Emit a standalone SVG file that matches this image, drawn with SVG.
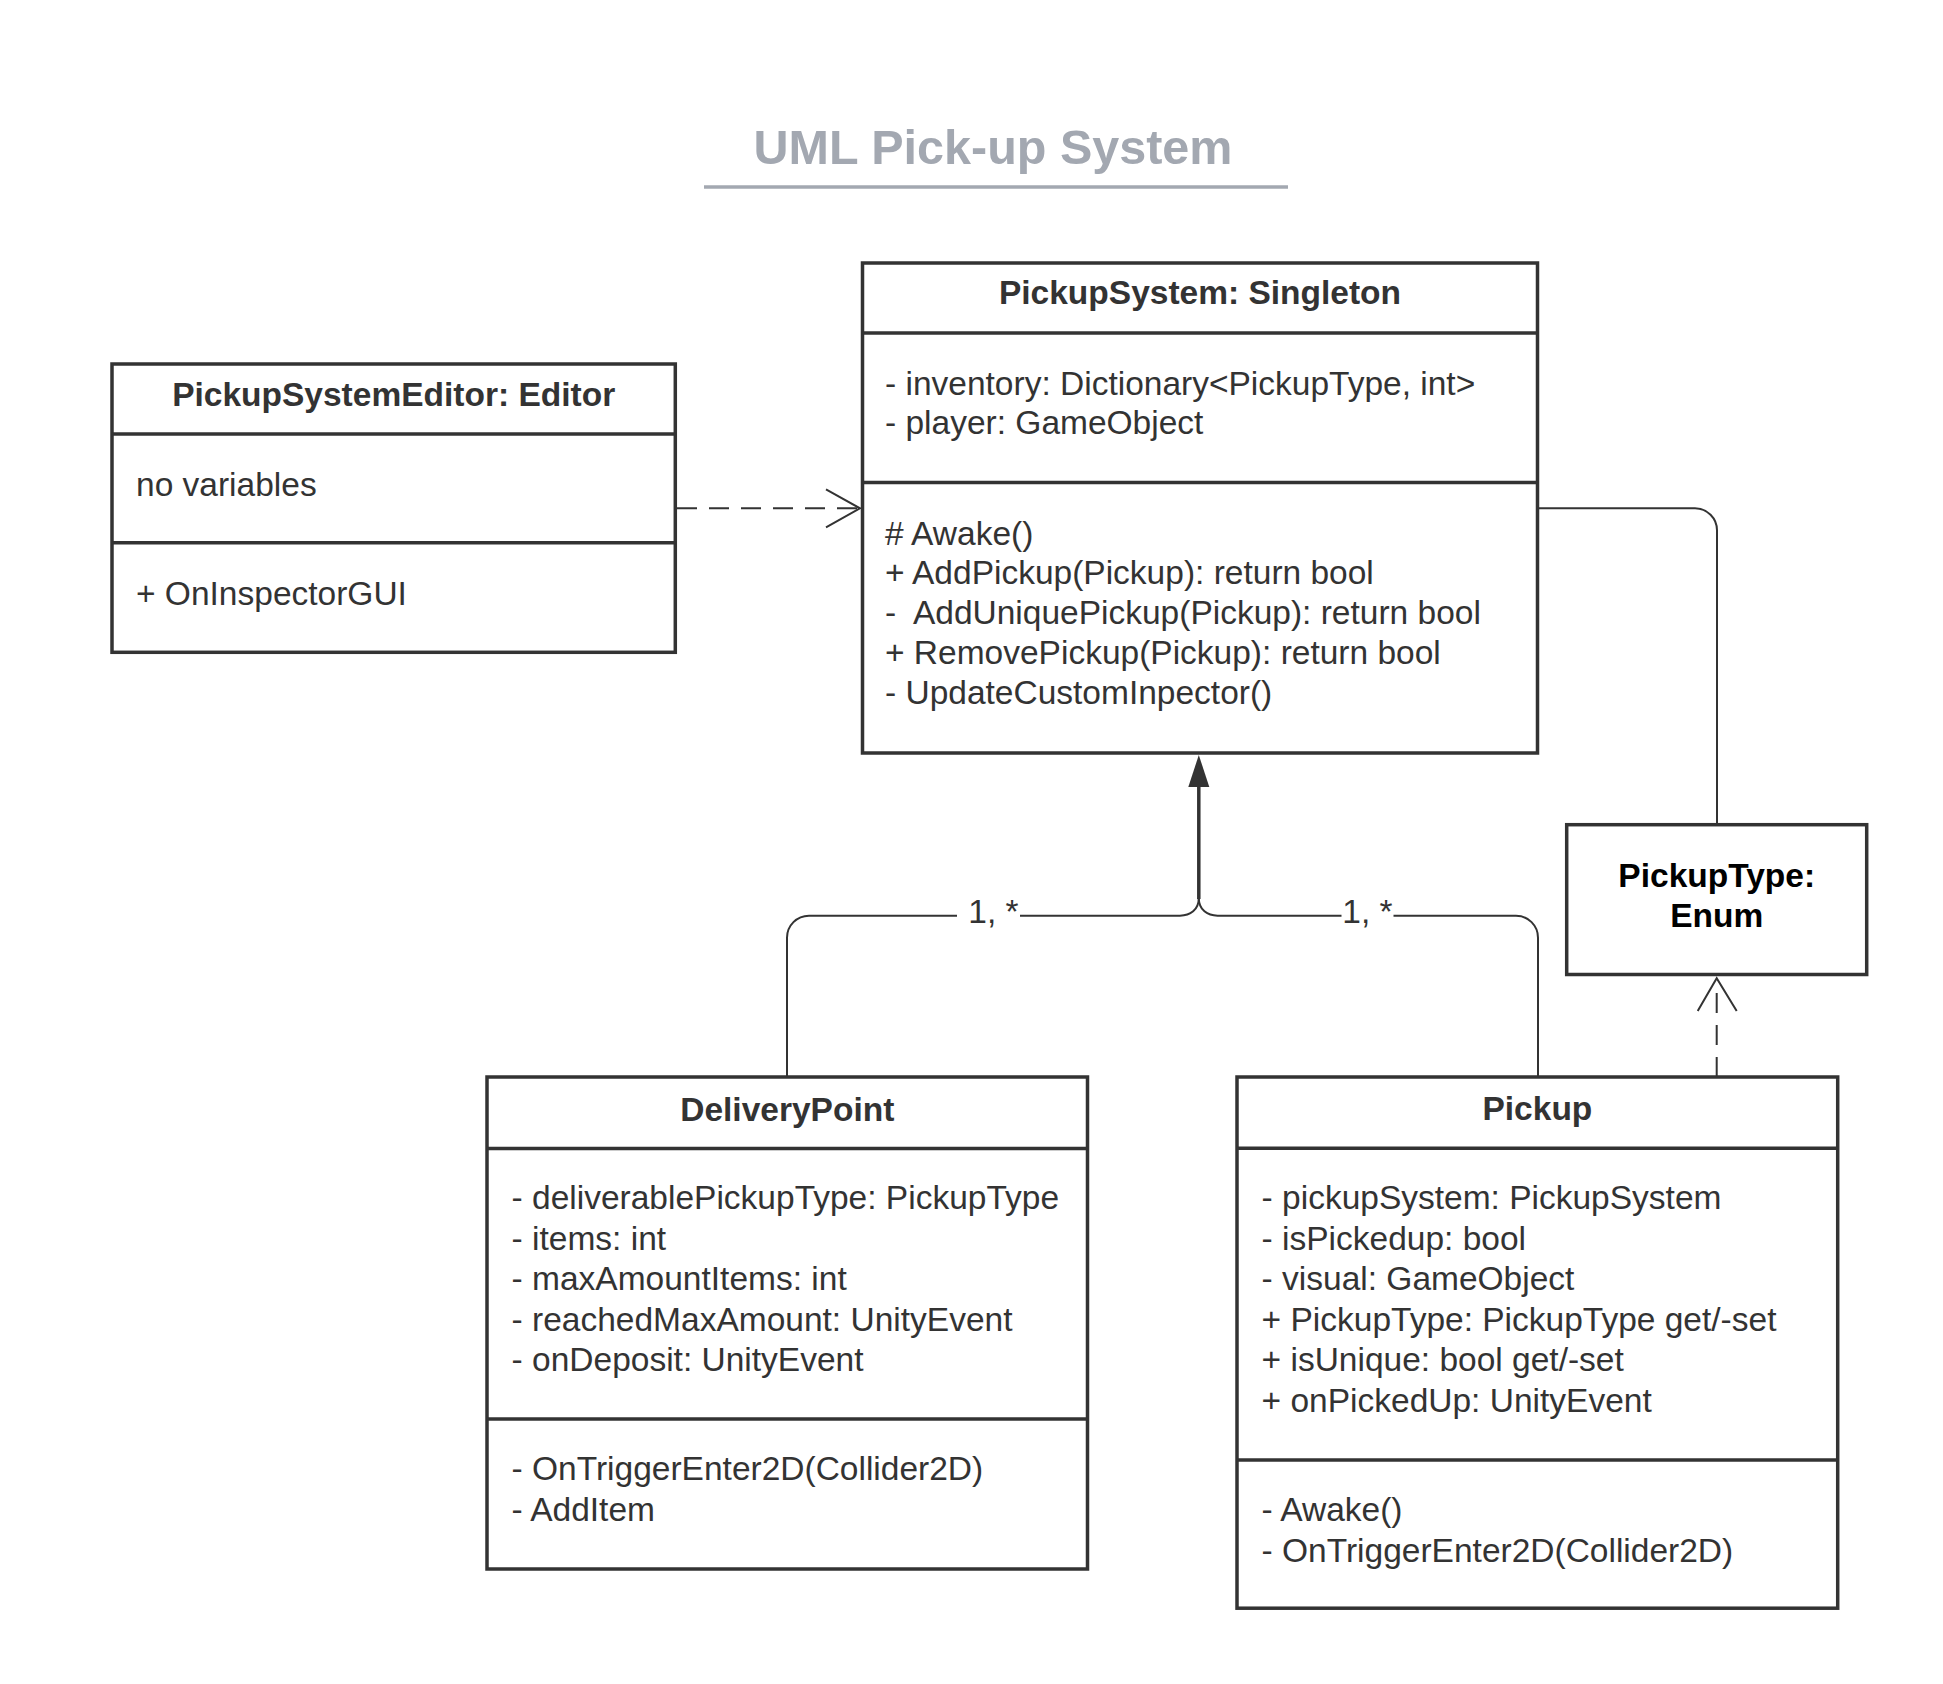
<svg xmlns="http://www.w3.org/2000/svg" width="1943" height="1684" viewBox="0 0 1943 1684">
<style>
.box{fill:#fff;stroke:#333;stroke-width:3.5}
.div{stroke:#333;stroke-width:3.5}
.t{font-family:"Liberation Sans",Arial,sans-serif;font-size:33.5px;fill:#333}
.h{font-family:"Liberation Sans",Arial,sans-serif;font-size:33.5px;font-weight:bold;fill:#333;text-anchor:middle}
.c{fill:none;stroke:#333;stroke-width:2}
.d{fill:none;stroke:#333;stroke-width:2;stroke-dasharray:20 12}
</style>
<rect width="1943" height="1684" fill="#fff"/>
<g id="title">
<text x="993" y="164" font-family="Liberation Sans,Arial,sans-serif" font-size="48.5" font-weight="bold" fill="#a3a8b1" text-anchor="middle">UML Pick-up System</text>
<line x1="704" y1="187" x2="1288" y2="187" stroke="#a3a8b1" stroke-width="3.5"/>
</g>
<g id="connectors">
<line class="d" x1="677" y1="508.3" x2="858" y2="508.3"/>
<polyline class="c" points="826,489.3 860,508.3 826,527.3"/>
<path class="c" d="M1539,508.3 H1695 A22,22 0 0 1 1717,530.3 V824"/>
<line class="d" x1="1716.7" y1="1077" x2="1716.7" y2="981"/>
<polyline class="c" points="1697.7,1011 1716.7,978.3 1736.7,1011"/>
<line x1="1198.8" y1="785" x2="1198.8" y2="899" stroke="#333" stroke-width="3.5"/>
<polygon points="1198.8,755 1188.3,787 1209.3,787" fill="#333"/>
<path class="c" stroke-width="2.4" d="M1198.8,898 C1198.8,910 1190,915.7 1180,915.7 H809 A22,22 0 0 0 787,937.7 V1077"/>
<path class="c" stroke-width="2.4" d="M1198.8,898 C1198.8,910 1207.6,915.7 1217.6,915.7 H1516 A22,22 0 0 1 1538,937.7 V1077"/>
<rect x="957" y="900" width="63" height="30" fill="#fff"/>
<rect x="1341.5" y="900" width="52" height="30" fill="#fff"/>
<text class="t" x="993.5" y="922.7" text-anchor="middle">1, *</text>
<text class="t" x="1367.5" y="922.7" text-anchor="middle">1, *</text>
</g>
<g id="PickupSystem">
<rect class="box" x="862.5" y="263" width="675" height="490"/>
<line class="div" x1="862.5" y1="333" x2="1537.5" y2="333"/>
<line class="div" x1="862.5" y1="482.5" x2="1537.5" y2="482.5"/>
<text class="h" x="1200" y="304">PickupSystem: Singleton</text>
<text class="t" x="885" y="395">- inventory: Dictionary&lt;PickupType, int&gt;</text>
<text class="t" x="885" y="434">- player: GameObject</text>
<text class="t" x="885" y="544.5"># Awake()</text>
<text class="t" x="885" y="584">+ AddPickup(Pickup): return bool</text>
<text class="t" x="885" y="624" xml:space="preserve">-  AddUniquePickup(Pickup): return bool</text>
<text class="t" x="885" y="664">+ RemovePickup(Pickup): return bool</text>
<text class="t" x="885" y="704">- UpdateCustomInpector()</text>
</g>
<g id="PickupSystemEditor">
<rect class="box" x="112" y="364" width="563.3" height="288.3"/>
<line class="div" x1="112" y1="434" x2="675.3" y2="434"/>
<line class="div" x1="112" y1="542.7" x2="675.3" y2="542.7"/>
<text class="h" x="393.7" y="406">PickupSystemEditor: Editor</text>
<text class="t" x="136" y="495.7">no variables</text>
<text class="t" x="136" y="605">+ OnInspectorGUI</text>
</g>
<g id="PickupType">
<rect class="box" x="1566.7" y="824.7" width="300" height="149.8"/>
<text class="h" x="1716.7" y="886.7" fill="#000" style="fill:#000">PickupType:</text>
<text class="h" x="1716.7" y="927.3" style="fill:#000">Enum</text>
</g>
<g id="DeliveryPoint">
<rect class="box" x="487" y="1077" width="600.5" height="492"/>
<line class="div" x1="487" y1="1148.6" x2="1087.5" y2="1148.6"/>
<line class="div" x1="487" y1="1419" x2="1087.5" y2="1419"/>
<text class="h" x="787.3" y="1121">DeliveryPoint</text>
<text class="t" x="511.6" y="1209">- deliverablePickupType: PickupType</text>
<text class="t" x="511.6" y="1249.5">- items: int</text>
<text class="t" x="511.6" y="1290">- maxAmountItems: int</text>
<text class="t" x="511.6" y="1330.5">- reachedMaxAmount: UnityEvent</text>
<text class="t" x="511.6" y="1371">- onDeposit: UnityEvent</text>
<text class="t" x="511.6" y="1480">- OnTriggerEnter2D(Collider2D)</text>
<text class="t" x="511.6" y="1520.5">- AddItem</text>
</g>
<g id="Pickup">
<rect class="box" x="1237" y="1077" width="600.7" height="531.2"/>
<line class="div" x1="1237" y1="1148.3" x2="1837.7" y2="1148.3"/>
<line class="div" x1="1237" y1="1460" x2="1837.7" y2="1460"/>
<text class="h" x="1537.4" y="1120">Pickup</text>
<text class="t" x="1261.6" y="1209">- pickupSystem: PickupSystem</text>
<text class="t" x="1261.6" y="1249.5">- isPickedup: bool</text>
<text class="t" x="1261.6" y="1290">- visual: GameObject</text>
<text class="t" x="1261.6" y="1330.5">+ PickupType: PickupType get/-set</text>
<text class="t" x="1261.6" y="1371">+ isUnique: bool get/-set</text>
<text class="t" x="1261.6" y="1411.5">+ onPickedUp: UnityEvent</text>
<text class="t" x="1261.6" y="1521">- Awake()</text>
<text class="t" x="1261.6" y="1561.5">- OnTriggerEnter2D(Collider2D)</text>
</g>
</svg>
